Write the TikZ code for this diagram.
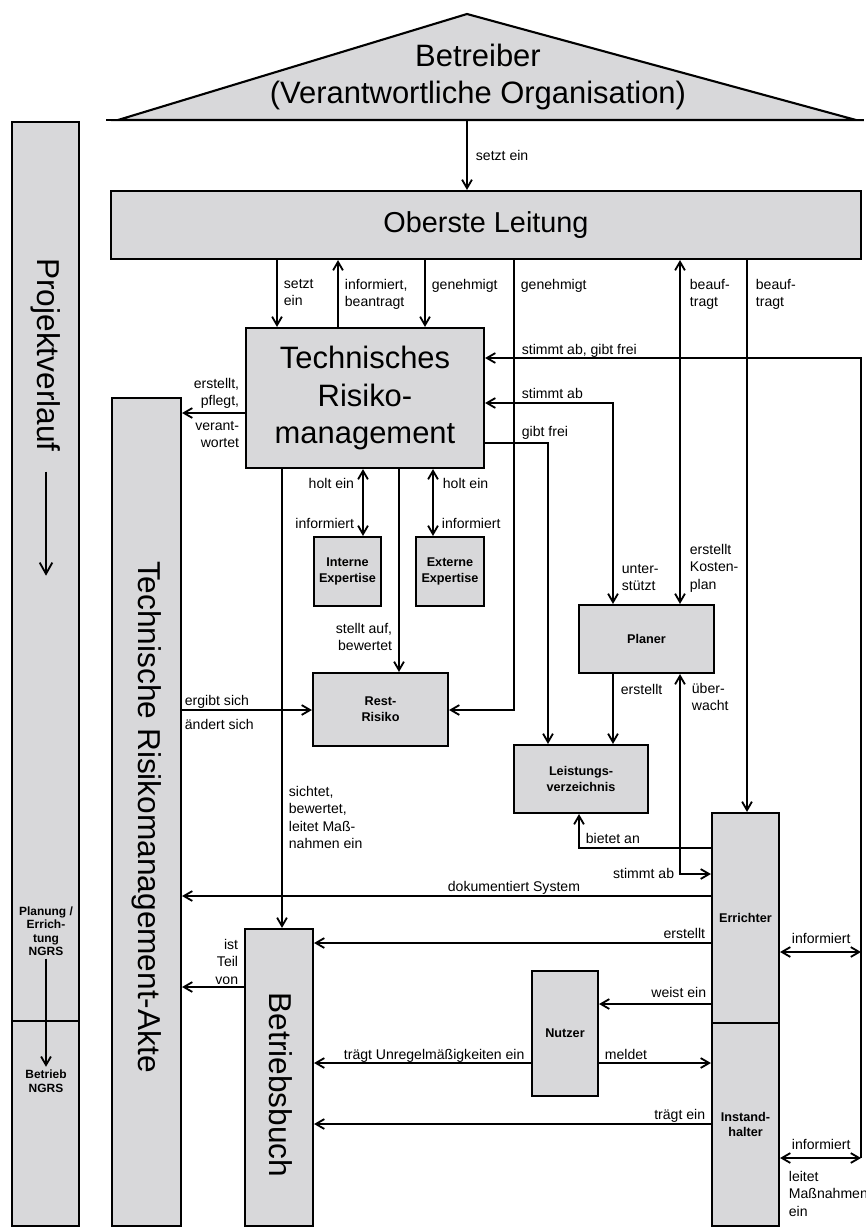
\documentclass[tikz,border=0pt]{standalone}
\usepackage{fontspec}
\setmainfont{Liberation Sans}
\usetikzlibrary{arrows.meta,calc}

\definecolor{boxgray}{RGB}{216,216,218}

\tikzset{
  box/.style={draw, line width=1.5pt, fill=boxgray, inner sep=0pt, align=center},
  conn/.style={line width=1.3pt},
  bigtext/.style={font=\fontsize{22}{26.4}\selectfont, align=center},
  boldtext/.style={font=\fontsize{9}{11.2}\selectfont\bfseries},
  smallbold/.style={font=\fontsize{8.5}{9.6}\selectfont\bfseries, align=center, inner sep=2pt},
  lbl/.style={font=\fontsize{10}{12.5}\selectfont, inner sep=0pt, align=left},
  lblr/.style={lbl, align=right},
}

\begin{document}
\begin{tikzpicture}[>={Straight Barb[length=6pt,width=7pt]}, x=0.025cm, y=-0.025cm]

\useasboundingbox (0,0) rectangle (866,1230);

% Draw the roof
\filldraw[fill=boxgray, line width=1.5pt] (118,120) -- (467,14) -- (856,120) -- cycle;
\draw[line width=1.5pt] (106,120) -- (864,120);
\node[bigtext] (betreiber) at (478,77) {Betreiber\\(Verantwortliche Organisation)};
\coordinate (betrbase) at (467,120);

% Draw the columns on the left
\node[box, minimum width=1.675cm, minimum height=22.475cm] (projoben) at (45.5,571.5) {};
\node[box, minimum width=1.675cm, minimum height=5.125cm] (projunten) at (45.5,1123.5) {};
\node[rotate=-90, font=\fontsize{22.5}{27}\selectfont] (projtxt) at (46,355) {Projektverlauf};
\node[smallbold] (planerr) at (46,931) {Planung /\\Errich-\\tung\\NGRS};
\node[smallbold] (betrieb) at (46,1081) {Betrieb\\NGRS};
\node[box, minimum width=1.725cm, minimum height=20.7cm] (akte) at (146.5,812) {};
\node[rotate=-90, font=\fontsize{22.5}{27}\selectfont] (aktetxt) at (147,817) {Technische Risikomanagement-Akte};

% Draw the boxes
\node[box, font=\fontsize{20.5}{24}\selectfont, minimum width=18.75cm, minimum height=1.7cm] (ol) at (486,225) {Oberste Leitung};
\node[box, bigtext, minimum width=5.95cm, minimum height=3.5cm] (trm) at (365,398) {Technisches\\Risiko-\\management};
\node[box, boldtext, minimum width=1.675cm, minimum height=1.725cm] (intexp) at (347.5,571.5) {Interne\\Expertise};
\node[box, boldtext, minimum width=1.7cm, minimum height=1.725cm] (extexp) at (450,571.5) {Externe\\Expertise};
\node[box, boldtext, minimum width=3.375cm, minimum height=1.825cm] (rest) at (380.5,709.5) {Rest-\\Risiko};
\node[box, boldtext, minimum width=3.375cm, minimum height=1.7cm] (planer) at (646.5,639) {Planer};
\node[box, boldtext, minimum width=3.35cm, minimum height=1.7cm] (lv) at (581,779) {Leistungs-\\verzeichnis};
\node[box, boldtext, minimum width=1.675cm, minimum height=5.25cm] (errichter) at (745.5,918) {Errichter};
\node[box, boldtext, minimum width=1.675cm, minimum height=5.075cm] (instand) at (745.5,1124.5) {Instand-\\halter};
\node[box, minimum width=1.7cm, minimum height=7.425cm] (bb) at (279,1077.5) {};
\node[rotate=-90, font=\fontsize{22.5}{27}\selectfont] (bbtxt) at (281,1085) {Betriebsbuch};
\node[box, boldtext, minimum width=1.65cm, minimum height=3.125cm] (nutzer) at (565,1033.5) {Nutzer};

%% Lanes of the connectors
\coordinate (sEin) at (277,0);
\coordinate (inf) at (338,0);
\coordinate (gen1) at (425,0);
\coordinate (gen2) at (514,0);
\coordinate (auftrP) at (680,0);
\coordinate (auftrE) at (747,0);
\coordinate (rand) at (861,0);
\coordinate (sicht) at (282,0);
\coordinate (holI) at (363,0);
\coordinate (holE) at (433,0);
\coordinate (auf) at (399,0);
\coordinate (frei) at (548,0);
\coordinate (abst) at (613,0);
\coordinate (biet) at (579,0);
\coordinate (yFrei) at (0,358);
\coordinate (yAb) at (0,403);
\coordinate (yPfl) at (0,413);
\coordinate (yGib) at (0,443);
\coordinate (yRest) at (0,710);
\coordinate (yBiet) at (0,848);
\coordinate (yUeb) at (0,874);
\coordinate (yDok) at (0,896);
\coordinate (yErst) at (0,943);
\coordinate (yInfE) at (0,952);
\coordinate (yTeil) at (0,987);
\coordinate (yWeis) at (0,1004);
\coordinate (yMeld) at (0,1063);
\coordinate (yTrag) at (0,1124);
\coordinate (yInfI) at (0,1158);

%% Project arrows
\draw[conn,-{Straight Barb[length=8pt,width=9pt]}] ($(projtxt.east)+(0,15)$) -- ($(projtxt.east)+(0,119)$);
\draw[conn,->] (planerr) -- (betrieb);

%% Betreiber and Oberste Leitung
\draw[conn,->] (betrbase) -- (ol.north -| betrbase) node[lbl, anchor=north west] at (475,149) {setzt ein};
\draw[conn,->] (ol.south -| sEin) -- (trm.north -| sEin) node[lbl, anchor=north west] at (283,278) {setzt\\ein};
\draw[conn,->] (trm.north -| inf) -- (ol.south -| inf) node[lbl, anchor=north west] at (344,278) {informiert,\\beantragt};
\draw[conn,->] (ol.south -| gen1) -- (trm.north -| gen1) node[lbl, anchor=north west] at (431,278) {genehmigt};
\draw[conn,->] (ol.south -| gen2) -- (gen2 |- yRest) -- (rest.east |- yRest) node[lbl, anchor=north west] at (520,278) {genehmigt};
\draw[conn,<->] (ol.south -| auftrP) -- (planer.north -| auftrP) node[lbl, anchor=north west] at (689,278) {beauf-\\tragt} node[lbl, anchor=north west] at (689,543) {erstellt\\Kosten-\\plan};
\draw[conn,->] (ol.south -| auftrE) -- (errichter.north -| auftrE) node[lbl, anchor=north west] at (755,278) {beauf-\\tragt};

%% Technisches Risikomanagement
\draw[conn,->] (rand |- yInfI) -- (rand |- yFrei) -- (trm.east |- yFrei) node[lbl, anchor=north west] at (521,343) {stimmt ab, gibt frei};
\draw[conn,<->] (trm.east |- yAb) -- (abst |- yAb) -- (planer.north -| abst) node[lbl, anchor=north west] at (521,387) {stimmt ab} node[lbl, anchor=north west] at (621,563) {unter-\\stützt};
\draw[conn,->] (trm.east |- yGib) -- (frei |- yGib) -- (lv.north -| frei) node[lbl, anchor=north west] at (521,425) {gibt frei};
\draw[conn,->] (trm.west |- yPfl) -- (akte.east |- yPfl) node[lblr, anchor=north east] at (240,377) {erstellt,\\pflegt,} node[lblr, anchor=north east] at (240,420) {verant-\\wortet};
\draw[conn,<->] (trm.south -| holI) -- (intexp.north -| holI) node[lblr, anchor=north east] at (355,477) {holt ein} node[lblr, anchor=north east] at (355,517) {informiert};
\draw[conn,<->] (trm.south -| holE) -- (extexp.north -| holE) node[lbl, anchor=north west] at (442,477) {holt ein} node[lbl, anchor=north west] at (441,517) {informiert};
\draw[conn,->] (trm.south -| auf) -- (rest.north -| auf) node[lblr, anchor=north east] at (393,622) {stellt auf,\\bewertet};
\draw[conn,->] (trm.south -| sicht) -- (bb.north -| sicht) node[lbl, anchor=north west] at (288,785) {sichtet,\\bewertet,\\leitet Maß-\\nahmen ein};
\draw[conn,->] (akte.east |- yRest) -- (rest.west |- yRest) node[lbl, anchor=north west] at (184,694) {ergibt sich} node[lbl, anchor=north west] at (184,718) {ändert sich};

%% Planer and Errichter
\draw[conn,->] (planer.south -| abst) -- (lv.north -| abst) node[lbl, anchor=north west] at (620,683) {erstellt};
\draw[conn,<->] (planer.south -| auftrP) -- (auftrP |- yUeb) -- (errichter.west |- yUeb) node[lbl, anchor=north west] at (691,682) {über-\\wacht} node[lblr, anchor=north east] at (675,867) {stimmt ab};
\draw[conn,->] (errichter.west |- yBiet) -- (biet |- yBiet) -- (lv.south -| biet) node[lbl, anchor=north west] at (585,832) {bietet an};
\draw[conn,->] (errichter.west |- yDok) -- (akte.east |- yDok) node[lbl, anchor=north west] at (447,880) {dokumentiert System};
\draw[conn,<->] (errichter.east |- yInfE) -- (rand |- yInfE) node[lbl, anchor=north west] at (791,932) {informiert};
\draw[conn,<->] (instand.east |- yInfI) -- (rand |- yInfI) node[lbl, anchor=north west] at (791,1138) {informiert} node[lbl, anchor=north west] at (788,1170) {leitet\\Maßnahmen\\ein};

%% Betriebsbuch and Nutzer
\draw[conn,->] (errichter.west |- yErst) -- (bb.east |- yErst) node[lblr, anchor=north east] at (706,927) {erstellt};
\draw[conn,->] (bb.west |- yTeil) -- (akte.east |- yTeil) node[lblr, anchor=north east] at (239,938) {ist\\Teil\\von};
\draw[conn,->] (errichter.west |- yWeis) -- (nutzer.east |- yWeis) node[lblr, anchor=north east] at (707,986) {weist ein};
\draw[conn,->] (nutzer.west |- yMeld) -- (bb.east |- yMeld) node[lbl, anchor=north west] at (343,1048) {trägt Unregelmäßigkeiten ein};
\draw[conn,->] (nutzer.east |- yMeld) -- (instand.west |- yMeld) node[lbl, anchor=north west] at (604,1048) {meldet};
\draw[conn,->] (instand.west |- yTrag) -- (bb.east |- yTrag) node[lblr, anchor=north east] at (706,1108) {trägt ein};

\end{tikzpicture}
\end{document}
